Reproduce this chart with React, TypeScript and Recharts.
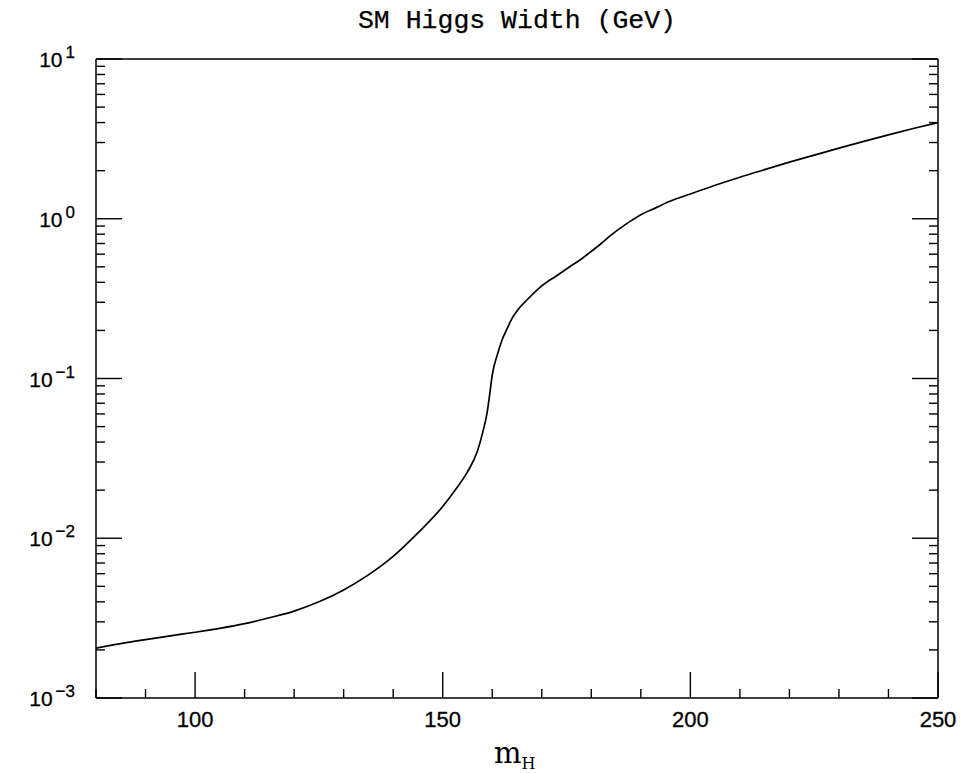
import React from "react";
import { LineChart, Line, XAxis, YAxis } from "recharts";

// Higgs mass (GeV) and total width (GeV)
const masses = [
  80, 85, 90, 95, 100, 105, 110, 115, 120, 125, 130, 135, 140, 145, 150, 153, 155, 157, 158, 159,
  159.5, 160, 161, 162, 163, 164, 165, 167, 170, 173, 176, 178, 180, 182, 184, 186, 188, 190, 193,
  196, 200, 205, 210, 215, 220, 225, 230, 235, 240, 245, 250,
];
const widths = [
  0.00205, 0.00219, 0.00232, 0.00245, 0.00258, 0.00273, 0.00292, 0.00318, 0.0035, 0.004, 0.00475,
  0.0059, 0.0077, 0.0108, 0.0158, 0.021, 0.026, 0.035, 0.045, 0.062, 0.08, 0.105, 0.14, 0.175, 0.205,
  0.238, 0.265, 0.31, 0.38, 0.44, 0.51, 0.56, 0.625, 0.7, 0.79, 0.88, 0.97, 1.06, 1.17, 1.29, 1.43,
  1.62, 1.82, 2.03, 2.26, 2.5, 2.77, 3.05, 3.35, 3.67, 4.0,
];

const xTicks = [80, 90, 100, 110, 120, 130, 140, 150, 160, 170, 180, 190, 200, 210, 220, 230, 240, 250];
const xLabelTicks = [100, 150, 200, 250];
const decades = [-3, -2, -1, 0, 1];
const mantissas = [1, 2, 3, 4, 5, 6, 7, 8, 9];

const yTicks: number[] = [];
decades.forEach((d) => {
  mantissas.forEach((m) => {
    if (d === 1 && m > 1) return;
    yTicks.push(Number((m * Math.pow(10, d)).toPrecision(3)));
  });
});

const data = masses.map((m, i) => ({ m, w: widths[i] }));

const tickFont = "'Liberation Sans', Arial, sans-serif";
const MAJOR = 26;
const MINOR = 9;

const expOf = (v: number) => {
  const e = Math.log10(v);
  return Math.abs(e - Math.round(e)) < 1e-6 ? Math.round(e) : null;
};

const XTick = ({ x, y, payload, top }: any) => {
  const major = xLabelTicks.includes(payload.value);
  const len = major ? MAJOR : MINOR;
  return (
    <g>
      <line x1={x} y1={y} x2={x} y2={top ? y + len : y - len} stroke="#000" strokeWidth={1.4} />
      {!top && major && (
        <text x={x} y={y + 29} textAnchor="middle" fontSize={22} fontFamily={tickFont} fill="#000" stroke="#000" strokeWidth={0.3}>
          {payload.value}
        </text>
      )}
    </g>
  );
};

const YTick = ({ x, y, payload, right }: any) => {
  const e = expOf(payload.value);
  const len = e !== null ? MAJOR : MINOR;
  return (
    <g>
      <line x1={x} y1={y} x2={right ? x - len : x + len} y2={y} stroke="#000" strokeWidth={1.4} />
      {!right && e !== null && (
        <text x={x - 21} y={y + 8} textAnchor="end" fontFamily={tickFont} fill="#000" stroke="#000" strokeWidth={0.3}>
          <tspan fontSize={21}>10</tspan>
          <tspan fontSize={17} dx={3} dy={-9}>
            {e < 0 ? "\u2212" + Math.abs(e) : e}
          </tspan>
        </text>
      )}
    </g>
  );
};

const axisLine = { stroke: "#000", strokeWidth: 1.5 };

export default function App() {
  return (
    <div style={{ position: "absolute", left: 0, top: 0, width: 976, height: 773, background: "#fff" }}>
      <LineChart width={976} height={773} data={data} margin={{ top: 58, right: 37, bottom: 74, left: 95 }}>
        <XAxis
          xAxisId="b"
          dataKey="m"
          type="number"
          domain={[80, 250]}
          ticks={xTicks}
          interval={0}
          height={1}
          tickSize={0}
          tickMargin={0}
          axisLine={axisLine}
          tickLine={false}
          tick={<XTick />}
          allowDataOverflow
        />
        <XAxis
          xAxisId="t"
          orientation="top"
          type="number"
          domain={[80, 250]}
          ticks={xTicks}
          interval={0}
          height={1}
          tickSize={0}
          tickMargin={0}
          axisLine={axisLine}
          tickLine={false}
          tick={<XTick top />}
          allowDataOverflow
        />
        <YAxis
          yAxisId="l"
          type="number"
          scale="log"
          domain={[0.001, 10]}
          ticks={yTicks}
          interval={0}
          width={1}
          tickSize={0}
          tickMargin={0}
          axisLine={axisLine}
          tickLine={false}
          tick={<YTick />}
          allowDataOverflow
        />
        <YAxis
          yAxisId="r"
          orientation="right"
          type="number"
          scale="log"
          domain={[0.001, 10]}
          ticks={yTicks}
          interval={0}
          width={1}
          tickSize={0}
          tickMargin={0}
          axisLine={axisLine}
          tickLine={false}
          tick={<YTick right />}
          allowDataOverflow
        />
        <Line
          xAxisId="b"
          yAxisId="l"
          dataKey="w"
          type="monotone"
          stroke="#000"
          strokeWidth={1.7}
          dot={false}
          isAnimationActive={false}
        />
      </LineChart>
      <svg width={976} height={773} style={{ position: "absolute", left: 0, top: 0, pointerEvents: "none" }}>
        <text
          x={517}
          y={28}
          textAnchor="middle"
          fontSize={26.5}
          fontFamily="'Liberation Mono', monospace"
          fill="#000"
          stroke="#000"
          strokeWidth={0.25}
        >
          SM Higgs Width (GeV)
        </text>
        <text x={494} y={763} fontFamily="'DejaVu Serif', serif" fill="#000">
          <tspan fontSize={29}>m</tspan>
          <tspan fontSize={16} dy={6}>H</tspan>
        </text>
      </svg>
    </div>
  );
}
